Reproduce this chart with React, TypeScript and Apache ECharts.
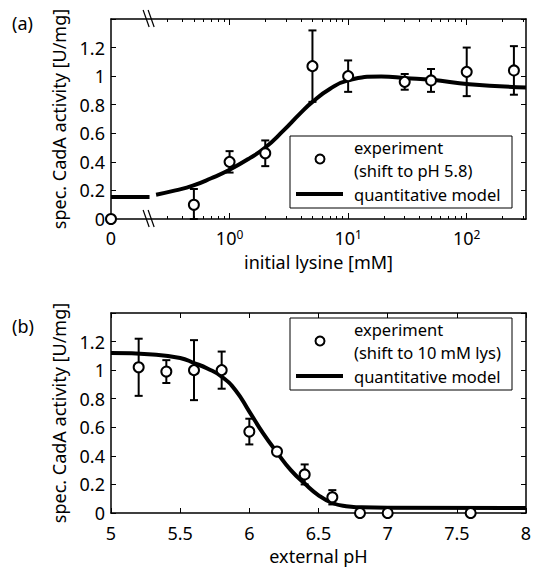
import React, { useEffect, useRef } from "react";
import * as echarts from "echarts";

// ---------- Panel (a): activity vs. initial lysine ----------
const LYSINE = [0, 0.5, 1, 2, 5, 10, 30, 50, 100, 250];
const LYS_ACTIVITY = [0, 0.1, 0.4, 0.46, 1.07, 1.0, 0.96, 0.97, 1.03, 1.04];
const LYS_ERROR = [0, 0.11, 0.075, 0.09, 0.25, 0.11, 0.055, 0.08, 0.17, 0.17];
const LYS_MODEL_X = [0.24, 0.35, 0.49, 0.7, 1, 1.48, 2, 2.8, 4, 5, 7, 10, 19, 31, 51, 105, 316];
const LYS_MODEL_Y = [0.17, 0.2, 0.233, 0.285, 0.345, 0.426, 0.5, 0.613, 0.745, 0.82, 0.91, 0.97, 0.997, 0.986, 0.974, 0.944, 0.92];
const LYS_MODEL_ZERO = 0.154; // model value at zero lysine
const LYS_LOG_MIN = -1; // axis position used for "0"
const LYS_LOG_MAX = 2.5;
const LYS_BREAK = -0.67;
const LYS_MAJOR = [0, 1, 2];
const LYS_LABELS = [-1, 0, 1, 2];

// ---------- Panel (b): activity vs. external pH ----------
const PH = [5.2, 5.4, 5.6, 5.8, 6.0, 6.2, 6.4, 6.6, 6.8, 7.0, 7.6];
const PH_ACTIVITY = [1.02, 0.99, 1.0, 1.0, 0.57, 0.43, 0.27, 0.11, 0, 0, 0];
const PH_ERROR = [0.2, 0.08, 0.21, 0.13, 0.09, 0, 0.07, 0.05, 0, 0, 0];
const PH_MODEL_X = [5.0, 5.3, 5.5, 5.6, 5.7, 5.8, 5.9, 6.0, 6.1, 6.2, 6.3, 6.4, 6.5, 6.6, 6.7, 6.8, 7.0, 8.0];
const PH_MODEL_Y = [1.12, 1.11, 1.085, 1.05, 1.01, 0.955, 0.86, 0.71, 0.557, 0.424, 0.3, 0.206, 0.124, 0.07, 0.047, 0.04, 0.036, 0.035];

const Y_LABELS = [0, 0.2, 0.4, 0.6, 0.8, 1, 1.2];
const LEGEND_A = ["experiment", "(shift to pH 5.8)", "quantitative model"];
const LEGEND_B = ["experiment", "(shift to 10 mM lys)", "quantitative model"];

const FONT = "Noto Sans";
const BLACK = "#000";

function lysPos(v: number) {
  return v === 0 ? LYS_LOG_MIN : Math.log10(v);
}

function minorLogTicks() {
  const out: number[] = [];
  for (let d = -1; d <= 2; d++) {
    for (let k = 2; k <= 9; k++) {
      const p = d + Math.log10(k);
      if (p > LYS_BREAK && p < LYS_LOG_MAX) out.push(p);
    }
  }
  return out;
}

const errRender = (params: any, api: any) => {
  const x = api.value(0);
  const y = api.value(1);
  const e = api.value(2);
  if (!e) return { type: "group", children: [] };
  const lo = Math.max(0, y - e);
  const top = api.coord([x, y + e]);
  const bot = api.coord([x, lo]);
  const hw = 4;
  const st = { stroke: BLACK, lineWidth: 2 };
  return {
    type: "group",
    children: [
      { type: "line", shape: { x1: top[0], y1: top[1], x2: bot[0], y2: bot[1] }, style: st },
      { type: "line", shape: { x1: top[0] - hw, y1: top[1], x2: top[0] + hw, y2: top[1] }, style: st },
      { type: "line", shape: { x1: bot[0] - hw, y1: bot[1], x2: bot[0] + hw, y2: bot[1] }, style: st },
    ],
  };
};

function legendGraphic(x: number, y: number, lines: string[]) {
  const tx = x + 64;
  const textStyle = (t: string, cy: number) => ({
    type: "text",
    x: tx,
    y: cy,
    style: { text: t, fill: BLACK, font: `16.5px "${FONT}"`, textVerticalAlign: "middle" },
  });
  return {
    type: "group",
    children: [
      { type: "rect", shape: { x, y, width: 222, height: 72 }, style: { fill: "#fff", stroke: BLACK, lineWidth: 1 } },
      { type: "circle", shape: { cx: x + 30, cy: y + 23, r: 4.5 }, style: { fill: "#fff", stroke: BLACK, lineWidth: 2 } },
      { type: "line", shape: { x1: x + 6, y1: y + 58, x2: x + 53, y2: y + 58 }, style: { stroke: BLACK, lineWidth: 4 } },
      textStyle(lines[0], y + 11),
      textStyle(lines[1], y + 34),
      textStyle(lines[2], y + 58),
    ],
  };
}

const axisLine = { show: true, onZero: false, lineStyle: { color: BLACK, width: 1.5 } };
const noAxisLine = { show: false, onZero: false };
const labelStyle = { color: BLACK, fontSize: 18, fontFamily: FONT, lineHeight: 18 };
const nameStyle = { color: BLACK, fontSize: 18, fontFamily: FONT, lineHeight: 18 };

function yAxes(gridIndex: number) {
  return [
    {
      gridIndex,
      type: "value",
      min: 0,
      max: 1.4,
      interval: 0.2,
      position: "left",
      axisLine,
      axisTick: { show: true, inside: true, length: 5, lineStyle: { color: BLACK, width: 1 } },
      axisLabel: {
        ...labelStyle,
        margin: 6,
        customValues: Y_LABELS,
        formatter: (v: number) => String(+v.toFixed(1)),
      },
      splitLine: { show: false },
      name: "spec. CadA activity [U/mg]",
      nameLocation: "middle",
      nameGap: 43,
      nameTextStyle: nameStyle,
    },
    {
      gridIndex,
      type: "value",
      min: 0,
      max: 1.4,
      interval: 0.2,
      position: "right",
      axisLine,
      axisTick: { show: true, inside: true, length: 5, lineStyle: { color: BLACK, width: 1 } },
      axisLabel: { show: false },
      splitLine: { show: false },
    },
  ];
}

export default function App() {
  const ref = useRef<HTMLDivElement>(null);
  useEffect(() => {
    document.body.style.margin = "0";
    const chart = echarts.init(ref.current!, null, { renderer: "svg" });
    const minors = minorLogTicks();
    const lysMinorTick = { show: true, inside: true, length: 3, customValues: minors, lineStyle: { color: BLACK, width: 1 } };
    const lysMajorTick = { show: true, inside: true, length: 6, customValues: LYS_MAJOR, lineStyle: { color: BLACK, width: 1 } };

    const option: any = {
      animation: false,
      backgroundColor: "#fff",
      textStyle: { fontFamily: FONT },
      grid: [
        { left: 111, top: 19, width: 415, height: 200 },
        { left: 111, top: 313, width: 415, height: 200 },
      ],
      xAxis: [
        {
          gridIndex: 0,
          type: "value",
          min: LYS_LOG_MIN,
          max: LYS_LOG_MAX,
          position: "bottom",
          axisLine,
          axisTick: lysMajorTick,
          axisLabel: {
            ...labelStyle,
            margin: 9,
            customValues: LYS_LABELS,
            formatter: (v: number) => (v <= LYS_LOG_MIN + 0.01 ? "{b|0}" : `{b|10}{s|${Math.round(v)}}`),
            rich: {
              b: { fontSize: 18, fontFamily: FONT, color: BLACK, lineHeight: 19 },
              s: { fontSize: 12, fontFamily: FONT, color: BLACK, verticalAlign: "top", lineHeight: 12 },
            },
          },
          splitLine: { show: false },
          name: "initial lysine [mM]",
          nameLocation: "middle",
          nameGap: 34,
          nameTextStyle: nameStyle,
        },
        {
          gridIndex: 0,
          type: "value",
          min: LYS_LOG_MIN,
          max: LYS_LOG_MAX,
          position: "bottom",
          axisLine: noAxisLine,
          axisTick: lysMinorTick,
          axisLabel: { show: false },
          splitLine: { show: false },
        },
        {
          gridIndex: 0,
          type: "value",
          min: LYS_LOG_MIN,
          max: LYS_LOG_MAX,
          position: "top",
          axisLine,
          axisTick: lysMajorTick,
          axisLabel: { show: false },
          splitLine: { show: false },
        },
        {
          gridIndex: 0,
          type: "value",
          min: LYS_LOG_MIN,
          max: LYS_LOG_MAX,
          position: "top",
          axisLine: noAxisLine,
          axisTick: lysMinorTick,
          axisLabel: { show: false },
          splitLine: { show: false },
        },
        {
          gridIndex: 1,
          type: "value",
          min: 5,
          max: 8,
          interval: 0.5,
          position: "bottom",
          axisLine,
          axisTick: { show: true, inside: true, length: 5, lineStyle: { color: BLACK, width: 1 } },
          axisLabel: { ...labelStyle, margin: 11, formatter: (v: number) => String(v) },
          splitLine: { show: false },
          name: "external pH",
          nameLocation: "middle",
          nameGap: 34,
          nameTextStyle: nameStyle,
        },
        {
          gridIndex: 1,
          type: "value",
          min: 5,
          max: 8,
          interval: 0.5,
          position: "top",
          axisLine,
          axisTick: { show: true, inside: true, length: 5, lineStyle: { color: BLACK, width: 1 } },
          axisLabel: { show: false },
          splitLine: { show: false },
        },
      ],
      yAxis: [...yAxes(0), ...yAxes(1)],
      series: [
        {
          type: "line",
          xAxisIndex: 0,
          yAxisIndex: 0,
          data: [
            [LYS_LOG_MIN, LYS_MODEL_ZERO],
            [LYS_BREAK - 0.005, LYS_MODEL_ZERO],
          ],
          symbol: "none",
          lineStyle: { color: BLACK, width: 4 },
          z: 2,
        },
        {
          type: "line",
          xAxisIndex: 0,
          yAxisIndex: 0,
          data: LYS_MODEL_X.map((x, i) => [Math.log10(x), LYS_MODEL_Y[i]]),
          smooth: 0.5,
          symbol: "none",
          lineStyle: { color: BLACK, width: 4 },
          z: 2,
        },
        {
          type: "custom",
          xAxisIndex: 0,
          yAxisIndex: 0,
          renderItem: errRender,
          data: LYSINE.map((x, i) => [lysPos(x), LYS_ACTIVITY[i], LYS_ERROR[i]]),
          z: 3,
        },
        {
          type: "scatter",
          xAxisIndex: 0,
          yAxisIndex: 0,
          data: LYSINE.map((x, i) => [lysPos(x), LYS_ACTIVITY[i]]),
          symbol: "circle",
          symbolSize: 10,
          clip: false,
          itemStyle: { color: "#fff", borderColor: BLACK, borderWidth: 2, opacity: 1 },
          z: 4,
        },
        {
          type: "line",
          xAxisIndex: 4,
          yAxisIndex: 2,
          data: PH_MODEL_X.map((x, i) => [x, PH_MODEL_Y[i]]),
          smooth: 0.5,
          symbol: "none",
          lineStyle: { color: BLACK, width: 4 },
          z: 2,
        },
        {
          type: "custom",
          xAxisIndex: 4,
          yAxisIndex: 2,
          renderItem: errRender,
          data: PH.map((x, i) => [x, PH_ACTIVITY[i], PH_ERROR[i]]),
          z: 3,
        },
        {
          type: "scatter",
          xAxisIndex: 4,
          yAxisIndex: 2,
          data: PH.map((x, i) => [x, PH_ACTIVITY[i]]),
          symbol: "circle",
          symbolSize: 10,
          clip: false,
          itemStyle: { color: "#fff", borderColor: BLACK, borderWidth: 2, opacity: 1 },
          z: 4,
        },
      ],
    };
    chart.setOption(option);

    const bx = chart.convertToPixel({ xAxisIndex: 0 }, LYS_BREAK) as number;
    const yb = chart.convertToPixel({ yAxisIndex: 0 }, 0) as number;
    const yt = chart.convertToPixel({ yAxisIndex: 0 }, 1.4) as number;
    const slash = (cx: number, cy: number) => [
      { type: "line", shape: { x1: cx - 7, y1: cy - 9, x2: cx - 1, y2: cy + 8 }, style: { stroke: BLACK, lineWidth: 1.2 } },
      { type: "line", shape: { x1: cx - 2, y1: cy - 9, x2: cx + 4, y2: cy + 8 }, style: { stroke: BLACK, lineWidth: 1.2 } },
    ];
    const gx = chart.convertToPixel({ xAxisIndex: 4 }, 8) as number;
    const gy1 = chart.convertToPixel({ yAxisIndex: 0 }, 1.4) as number;
    const gy2 = chart.convertToPixel({ yAxisIndex: 2 }, 1.4) as number;

    chart.setOption({
      graphic: [
        { type: "group", children: [...slash(bx, yb), ...slash(bx, yt)], z: 10 },
        { ...legendGraphic(gx - 236, gy1 + 117, LEGEND_A), z: 10 },
        { ...legendGraphic(gx - 236, gy2 + 5, LEGEND_B), z: 10 },
        { type: "text", x: 12, y: 14, style: { text: "(a)", fill: BLACK, font: `18px "${FONT}"` }, z: 10 },
        { type: "text", x: 12, y: 317, style: { text: "(b)", fill: BLACK, font: `18px "${FONT}"` }, z: 10 },
      ],
    });

    return () => chart.dispose();
  }, []);
  return <div ref={ref} style={{ position: "absolute", left: 0, top: 0, width: 537, height: 567 }} />;
}
